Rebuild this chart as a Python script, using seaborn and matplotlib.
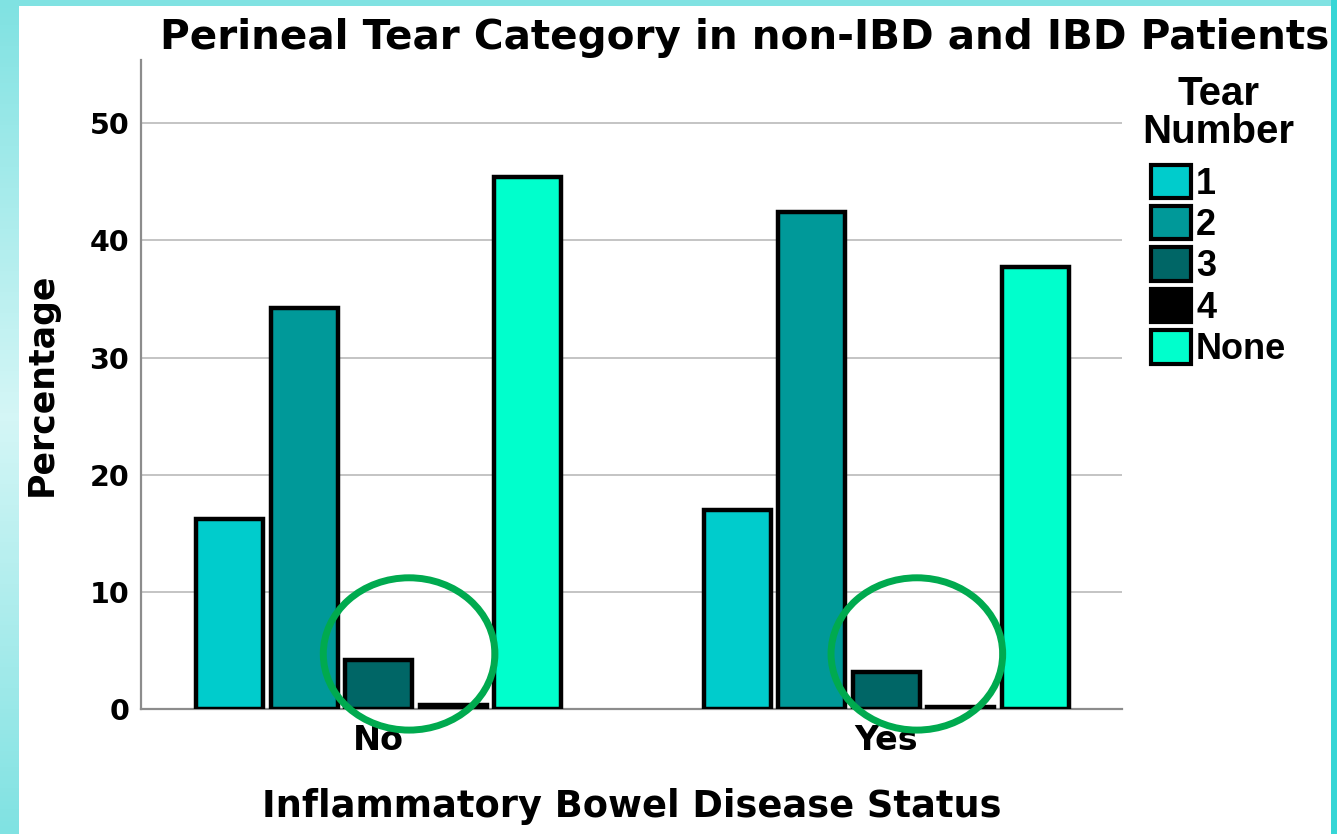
import numpy as np
import pandas as pd
import matplotlib
matplotlib.use("Agg")
import matplotlib.pyplot as plt
import seaborn as sns
from matplotlib.patches import Patch, Ellipse, Rectangle

# --- data ---
ibd_status = ["No", "Yes"]
tear_number = ["1", "2", "3", "4", "None"]
pct_no = [16.2, 34.2, 4.2, 0.3, 45.4]
pct_yes = [17.0, 42.4, 3.2, 0.2, 37.7]
tear_colors = ["#00cccc", "#009999", "#006666", "#000000", "#00ffcc"]

df = pd.DataFrame({
    "status": [s for s in ibd_status for _ in tear_number],
    "tear": tear_number * len(ibd_status),
    "pct": pct_no + pct_yes,
})

sns.set_theme(style="white")
plt.rcParams["font.family"] = ["DejaVu Sans"]
plt.rcParams["font.weight"] = "bold"
for key in ["text.color", "axes.labelcolor", "xtick.color", "ytick.color"]:
    plt.rcParams[key] = "black"

fig = plt.figure(figsize=(13.37, 8.34), dpi=100)

# cyan frame around the white slide area
bg = fig.add_axes([0, 0, 1, 1], zorder=-10)
grad = np.abs(np.linspace(-1, 1, 200))[:, None]
bg.imshow(grad, cmap=matplotlib.colors.LinearSegmentedColormap.from_list(
    "frame", ["#d4f6f6", "#80e2e2"]), aspect="auto", extent=[0, 1, 0, 1])
bg.set_xlim(0, 1)
bg.set_ylim(0, 1)
bg.axis("off")
bg.add_patch(Rectangle((1331 / 1337, 0), 6 / 1337, 1, color="#36d6d6", lw=0))
bg.add_patch(Rectangle((19 / 1337, 0), (1331 - 19) / 1337, 1 - 6 / 834,
                       color="white", lw=0))

ax = fig.add_axes([141 / 1337, 1 - 709 / 834, (1122 - 141) / 1337, (709 - 60) / 834])
ax.set_facecolor("none")

sns.barplot(data=df, x="status", y="pct", hue="tear", order=ibd_status,
            hue_order=tear_number, palette=dict(zip(tear_number, tear_colors)),
            width=0.733, gap=0.1, edgecolor="black", linewidth=3.2,
            saturation=1, errorbar=None, legend=False, ax=ax, zorder=3)

ax.set_xlim(-0.468, 1.464)
ax.set_ylim(0, 55.4)
ax.set_yticks([0, 10, 20, 30, 40, 50])
ax.yaxis.grid(True, color="#c4c4c4", lw=1.4, zorder=0)
ax.set_axisbelow(True)
for side in ["top", "right"]:
    ax.spines[side].set_visible(False)
for side in ["left", "bottom"]:
    ax.spines[side].set_color("#8c8c8c")
    ax.spines[side].set_linewidth(1.6)
ax.tick_params(axis="y", length=0, labelsize=20.5, pad=8.5)
ax.tick_params(axis="x", length=0, labelsize=24, pad=11)
for lbl in ax.get_xticklabels() + ax.get_yticklabels():
    lbl.set_fontweight("bold")

ax.set_xlabel("Inflammatory Bowel Disease Status", fontsize=26.5,
              fontweight="bold", va="baseline")
ax.xaxis.set_label_coords(0.5, (709 - 817) / 649)
ax.set_ylabel("Percentage", fontsize=25, fontweight="bold", va="center")
ax.yaxis.set_label_coords((42 - 141) / 981, 0.5)

# green circles highlighting the small categories 3 and 4
for i in range(len(ibd_status)):
    ax.add_patch(Ellipse((i + 0.06, 4.7), 0.338, 13.0, fill=False,
                         edgecolor="#00aa4f", lw=5, zorder=5, clip_on=False))

fig.text(745 / 1337, 1 - 38 / 834,
         "Perineal Tear Category in non-IBD and IBD Patients",
         ha="center", va="center", fontsize=29.2, fontweight="bold")

handles = [Patch(facecolor=c, edgecolor="black", lw=3) for c in tear_colors]
leg = fig.legend(handles, tear_number, title="Tear\nNumber",
                 loc="upper left", bbox_to_anchor=(1121 / 1337, 1 - 53 / 834),
                 frameon=False, prop={"family": "Liberation Sans", "weight": "bold", "size": 26},
                 title_fontproperties={"family": "Liberation Sans", "weight": "bold", "size": 29},
                 handlelength=1.1, handleheight=1.05, handletextpad=0.15,
                 labelspacing=0.12, borderpad=0.1)
leg.get_title().set_multialignment("center")
leg.get_title().set_linespacing(1.0)
leg._legend_box.sep = 10

fig.savefig("out.png", dpi=100)
